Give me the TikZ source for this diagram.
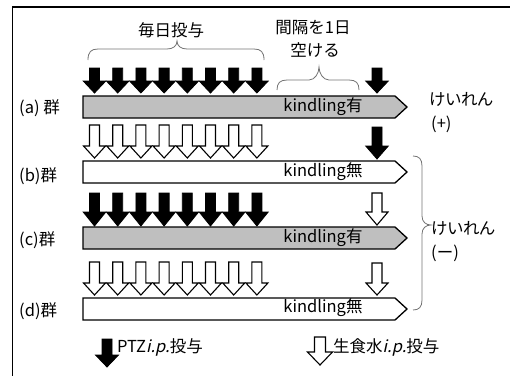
\documentclass[tikz,border=0pt]{standalone}
\usepackage{fontspec}
\setmainfont{Noto Sans CJK JP}
\newfontfamily\slfont[FakeSlant=0.22]{Noto Sans CJK JP}
\newfontfamily\propfont[CharacterWidth=AlternateProportional]{Noto Sans CJK JP}
\begin{document}
\begin{tikzpicture}[x=1pt,y=-1pt,
  lbl/.style={inner sep=0pt,font=\fontsize{16.5}{19}\selectfont},
  barstyle/.style={draw=black,line width=1.3pt,line join=miter},
  blk/.style={draw=black,fill=black,line width=0.8pt,line join=miter},
  wht/.style={draw=black,fill=white,line width=1.1pt,line join=miter},
  brc/.style={draw=black!55,line width=0.8pt}]
\useasboundingbox (0,0) rectangle (510,375);
% frame
\draw[line width=2pt] (12,7) -- (511,7);
\draw[line width=1.5pt] (12.5,6) -- (12.5,376);
% arrow macro: x, top, headstart, tip, style, halfshaft, halfhead
\newcommand\dnarr[7]{%
  \draw[#5] ({#1-#6},#2) -- ({#1+#6},#2) -- ({#1+#6},#3) -- ({#1+#7},#3) -- (#1,#4)
    -- ({#1-#7},#3) -- ({#1-#6},#3) -- cycle;}
% bars
\newcommand\grpbar[3]{%
  \draw[barstyle,fill=#3] (83,#1) -- (395,#1) -- (407,{(#1+#2)/2}) -- (395,#2) -- (83,#2) -- cycle;}
\grpbar{96}{118}{black!25}
\grpbar{161}{183}{white}
\grpbar{227}{249}{black!25}
\grpbar{298}{320}{white}
% arrow rows
\foreach \i in {0,...,7}{
  \pgfmathsetmacro\xx{94.5+23.2*\i}
  \dnarr{\xx}{68}{81}{93}{blk}{5}{11.3}
  \dnarr{\xx}{125}{146}{158}{wht}{5}{11}
  \dnarr{\xx}{193}{212}{226}{blk}{5}{11.3}
  \dnarr{\xx}{262}{283}{295}{wht}{5}{11}
}
\dnarr{377}{68}{81}{93}{blk}{5}{11.3}
\dnarr{377}{127}{146}{159}{blk}{5}{11.3}
\dnarr{377}{193}{212}{225}{wht}{5}{11}
\dnarr{377}{263}{283}{295}{wht}{5}{11}
% legend arrows
\dnarr{107}{339}{355}{367}{blk}{5}{11.5}
\dnarr{320}{337}{352}{365}{wht}{5.5}{12.5}
% braces
\draw[brc] (88,60) .. controls (88,52) and (91,49) .. (98,49) -- (167,49)
  .. controls (173,49) and (177,46) .. (177,41) .. controls (177,46) and (181,49) .. (187,49)
  -- (254,49) .. controls (261,49) and (264,52) .. (264,60);
\draw[brc] (277,90) .. controls (277,83) and (280,80) .. (287,80) -- (309,80)
  .. controls (315,80) and (319,73) .. (319,67) .. controls (319,73) and (323,80) .. (329,80)
  -- (349,80) .. controls (356,80) and (359,83) .. (359,90);
\draw[brc] (413,156) .. controls (419,156) and (422,159) .. (422,166) -- (422,216)
  .. controls (422,222) and (426,225) .. (431,225) .. controls (426,225) and (422,228) .. (422,234)
  -- (422,300) .. controls (422,307) and (419,310) .. (413,310);
% texts
\node[lbl] (daily) at (171,30) {毎日投与};
\node[lbl] (gap1) at (313,28) {間隔を1日};
\node[lbl] (gap2) at (315,50) {空ける};
\node[lbl,anchor=west] (ga) at (19,108) {(a) 群};
\node[lbl,anchor=west] (gb) at (19,176) {(b)群};
\node[lbl,anchor=west] (gc) at (19,240) {(c)群};
\node[lbl,anchor=west] (gd) at (19,311) {(d)群};
\node[lbl] (ka) at (323,107) {kindling有};
\node[lbl] (kb) at (323,172) {kindling無};
\node[lbl] (kc) at (323,238) {kindling有};
\node[lbl] (kd) at (323,308) {kindling無};
\node[lbl,anchor=west] (sa) at (429,99) {\propfont けいれん};
\node[lbl,anchor=west] (pa) at (431,124) {(+)};
\node[lbl,anchor=west] (sc) at (431,228) {\propfont けいれん};
\node[lbl,anchor=west] (pc) at (431,253) {(ー)};
\node[lbl,anchor=west] (l1) at (117,347) {PTZ{\slfont i.p.}投与};
\node[lbl,anchor=west] (l2) at (333,347) {生食水{\slfont i.p.}投与};
\end{tikzpicture}
\end{document}
